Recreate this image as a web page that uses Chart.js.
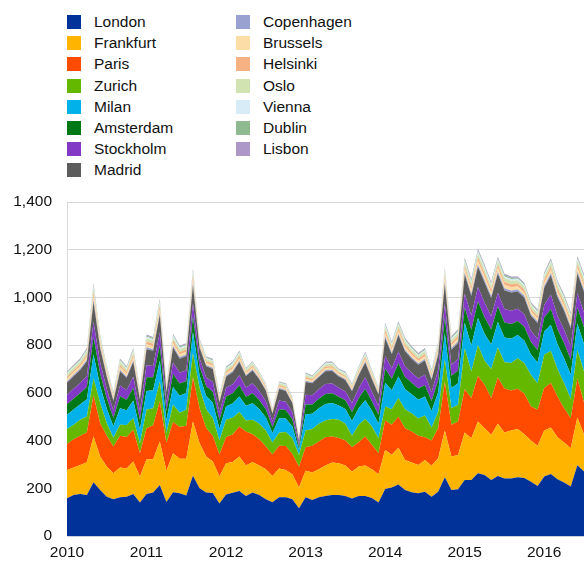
<!DOCTYPE html>
<html>
<head>
<meta charset="utf-8">
<script src="https://cdn.jsdelivr.net/npm/chart.js"></script>
<style>
  body { margin: 0; background: #fff; font-family: "Liberation Sans", Arial, sans-serif; }
  #wrap { position: relative; width: 584px; height: 562px; overflow: hidden; }
  #legend { position: absolute; left: 0; top: 0; width: 584px; height: 190px; }
  .item { position: absolute; height: 14px; display: flex; align-items: center; font-size: 15.5px; color: #111; white-space: nowrap; }
  .sw { width: 14px; height: 14px; margin-right: 13px; flex: none; }
  #chart { position: absolute; left: 0; top: 190px; }
</style>
</head>
<body>
<div id="wrap">
  <div id="legend"></div>
  <canvas id="chart" width="584" height="372"></canvas>
</div>
<script>
// monthly, Jan 2010 - Jul 2016
var startYear = 2010;
var nMonths = 79;

var cities = ['London', 'Frankfurt', 'Paris', 'Zurich', 'Milan', 'Amsterdam', 'Stockholm', 'Madrid',
              'Copenhagen', 'Brussels', 'Helsinki', 'Oslo', 'Vienna', 'Dublin', 'Lisbon'];
var colors = ['#003299', '#FFB400', '#FF4B00', '#65B800', '#00B1EA', '#007816', '#8139C6', '#5C5C5C',
              '#98A1D0', '#FDDDA7', '#F6B183', '#D2E3B2', '#D8ECF8', '#8FB98E', '#AD97C8'];

var london = [158,172,176,172,225,193,165,154,162,165,176,140,
              176,182,214,143,183,179,170,253,200,182,180,136,
              174,181,189,168,182,172,154,141,162,162,154,116,
              162,151,162,168,172,172,168,157,168,168,159,140,
              197,203,216,193,183,179,185,165,186,246,193,196,
              235,235,263,256,235,252,241,241,246,243,227,210,
              249,260,238,224,207,297,270];
var frankfurt = [119,115,122,137,192,140,126,109,125,118,136,109,
                 146,140,182,130,164,145,154,227,189,151,132,113,
                 131,129,144,128,128,124,126,111,121,115,105,87,
                 111,115,118,128,136,133,127,112,123,128,121,119,
                 164,138,154,126,125,119,134,129,140,196,140,144,
                 199,175,217,196,189,218,193,201,203,184,173,168,
                 193,195,176,168,161,200,155];
var paris = [109,119,122,125,173,140,129,112,133,132,133,98,
             130,142,169,117,131,133,138,185,146,119,108,93,
             110,115,126,142,117,110,95,90,95,100,85,87,
             99,112,116,118,109,106,105,103,102,121,102,88,
             123,125,130,133,130,122,95,106,126,203,133,140,
             181,168,191,182,154,194,184,168,168,169,143,151,
             178,186,171,144,126,163,135];
var zurich = [62,60,67,67,71,84,53,37,46,50,49,42,
              77,72,83,41,72,60,67,101,85,78,75,58,
              72,71,61,46,60,64,67,50,55,59,66,50,
              70,70,74,70,73,76,70,48,73,73,77,63,
              59,65,78,78,77,73,91,55,68,95,69,70,
              172,112,129,101,122,126,110,115,128,128,132,111,
              140,134,115,104,81,120,130];
var milan = [60,64,65,72,100,72,60,48,70,62,74,57,
             79,75,87,54,75,71,70,89,53,57,64,50,
             57,59,65,62,69,62,55,40,61,57,49,20,
             68,64,65,69,67,60,62,62,69,79,66,61,
             99,80,91,85,79,78,80,69,83,109,85,90,
             107,109,114,113,103,107,104,102,97,95,86,87,
             97,110,104,105,102,111,115];
var amsterdam = [44,46,47,52,72,52,44,35,50,44,53,41,
                 57,54,63,39,54,51,51,64,38,41,46,36,
                 41,43,47,38,42,38,34,24,37,35,30,12,
                 41,39,40,42,41,37,37,38,42,48,40,37,
                 60,48,55,51,48,47,48,42,50,66,52,54,
                 65,66,69,69,63,65,63,62,59,58,52,53,
                 59,67,63,64,62,67,70];
var stockholm = [39,41,42,46,64,46,39,31,45,40,47,37,
                 51,48,56,34,48,45,45,57,34,36,41,32,
                 36,38,42,38,42,38,34,24,37,35,30,12,
                 41,39,40,42,41,37,37,38,42,48,40,37,
                 53,43,49,45,42,42,43,37,44,59,45,48,
                 57,59,61,61,55,57,56,55,52,51,46,47,
                 52,59,56,56,55,59,62];
var madrid = [51,53,55,61,84,60,51,40,59,52,62,48,
              67,63,73,45,63,59,59,75,44,48,54,42,
              47,50,55,49,54,49,44,32,48,45,38,13,
              54,50,51,54,53,48,48,49,54,62,52,48,
              74,60,68,63,59,58,60,51,62,82,64,67,
              80,82,85,85,77,80,78,77,72,71,64,65,
              73,82,78,79,77,83,86];
var copenhagen = [6,6,6,7,10,7,6,5,7,6,7,6,
                  8,7,8,5,7,7,7,9,5,5,5,4,
                  5,6,6,4,5,4,4,3,4,4,3,2,
                  5,4,4,5,5,4,4,4,5,6,5,4,
                  8,6,7,7,6,6,6,6,7,9,7,7,
                  9,9,9,9,8,9,9,8,8,8,7,7,
                  8,9,9,8,8,9,9];
var brussels = [10,10,10,12,16,12,10,8,11,10,12,9,
                13,12,14,8,12,11,11,14,8,8,9,7,
                9,9,10,7,8,7,6,5,7,7,6,4,
                8,7,7,8,8,7,7,7,8,9,8,7,
                13,11,12,12,11,10,11,9,11,15,11,12,
                14,15,15,15,14,15,14,14,13,13,12,12,
                13,15,14,14,14,15,15];
var helsinki = [9,9,9,10,15,10,9,7,10,9,11,8,
                11,11,13,8,11,10,10,13,7,8,8,6,
                8,8,9,6,7,6,6,4,6,6,5,4,
                7,6,7,7,7,6,6,6,7,8,7,6,
                12,10,11,10,10,9,10,8,10,13,10,11,
                13,13,14,14,13,13,13,12,12,12,11,10,
                12,13,13,13,12,14,14];
var oslo = [11,11,11,13,18,13,11,9,12,11,13,10,
            14,13,15,9,13,13,12,16,9,9,10,8,
            10,10,11,8,9,8,7,5,7,7,6,4,
            9,8,8,9,9,7,8,7,8,10,9,7,
            15,12,14,13,12,11,12,10,12,16,13,13,
            16,16,17,17,15,16,16,15,14,14,13,13,
            15,16,16,15,15,17,17];
var vienna = [5,5,5,6,8,6,5,4,6,5,6,5,
              6,6,7,4,6,6,6,7,4,4,4,4,
              4,5,5,3,4,3,3,2,3,3,3,2,
              4,3,4,4,4,3,4,3,4,5,4,3,
              7,5,6,6,5,5,5,5,6,7,6,6,
              7,7,8,8,7,7,7,7,6,6,6,6,
              7,7,7,7,7,7,8];
var dublin = [4,4,4,5,6,5,4,3,4,4,5,4,
              5,5,6,3,5,5,4,6,3,3,4,3,
              4,4,4,3,3,3,2,2,3,3,2,2,
              3,3,3,3,3,3,3,3,3,4,3,3,
              5,4,5,5,4,4,4,4,4,6,5,5,
              6,6,6,6,6,6,6,6,5,5,5,5,
              5,6,6,6,6,6,6];
var lisbon = [3,4,4,4,6,4,3,3,4,4,4,3,
              5,4,5,3,4,4,4,5,3,3,3,3,
              3,3,4,2,3,2,2,2,2,2,2,1,
              3,2,3,3,3,2,3,2,3,4,3,2,
              5,4,4,4,4,4,4,3,4,5,4,5,
              5,6,6,6,5,5,5,5,5,5,4,4,
              5,5,5,5,5,6,6];

var series = [london, frankfurt, paris, zurich, milan, amsterdam, stockholm, madrid,
              copenhagen, brussels, helsinki, oslo, vienna, dublin, lisbon];

var yTicks = [0, 200, 400, 600, 800, 1000, 1200, 1400];

// category labels "2010-01" ... one per month
var months = [];
for (var i = 0; i < nMonths; i++) {
    var m = i % 12 + 1;
    months.push((startYear + Math.floor(i / 12)) + '-' + (m < 10 ? '0' : '') + m);
}

// legend: two columns (8 + 7)
var legend = document.getElementById('legend');
cities.forEach(function (name, k) {
    var col = k < 8 ? 0 : 1;
    var row = k < 8 ? k : k - 8;
    var div = document.createElement('div');
    div.className = 'item';
    div.style.left = (col ? 236 : 67) + 'px';
    div.style.top = (15 + row * 21.2) + 'px';
    div.innerHTML = '<span class="sw" style="background:' + colors[k] + '"></span>' + name;
    legend.appendChild(div);
});

var datasets = series.map(function (data, k) {
    return {
        label: cities[k],
        data: data,
        backgroundColor: colors[k],
        borderColor: colors[k],
        borderWidth: 0,
        pointRadius: 0,
        tension: 0,
        fill: k === 0 ? 'origin' : '-1'
    };
});

var tickFont = { family: '"Liberation Sans", Arial, sans-serif', size: 15.5 };

var ctx = document.getElementById('chart').getContext('2d');
var myChart = new Chart(ctx, {
    type: 'line',
    data: { labels: months, datasets: datasets },
    options: {
        responsive: false,
        animation: false,
        devicePixelRatio: 1,
        layout: { padding: { top: 12, left: 0, right: 0, bottom: 0 } },
        plugins: { legend: { display: false }, tooltip: { enabled: false } },
        elements: { line: { borderWidth: 0 } },
        scales: {
            x: {
                offset: false,
                // tick marks only used as spacing for the labels
                grid: { display: false, drawTicks: true, tickLength: 7 },
                border: { display: true, color: '#c9cde0' },
                ticks: {
                    autoSkip: false,
                    maxRotation: 0,
                    padding: 0,
                    color: '#111',
                    font: tickFont,
                    callback: function (value) {
                        var lab = this.getLabelForValue(value);
                        return lab.slice(5) === '01' ? lab.slice(0, 4) : '';
                    }
                },
                afterFit: function (s) { s.height = 26; }
            },
            y: {
                stacked: true,
                min: yTicks[0],
                max: yTicks[yTicks.length - 1],
                grid: { color: '#d9d9d9', drawTicks: true, tickLength: 15, tickColor: 'rgba(0,0,0,0)' },
                border: { display: true, color: '#d9d9d9' },
                ticks: {
                    stepSize: yTicks[1] - yTicks[0],
                    padding: 0,
                    color: '#111',
                    font: tickFont,
                    callback: function (v) { return v.toLocaleString('en-US'); }
                },
                afterFit: function (s) { s.width = 67; }
            }
        }
    }
});
</script>
</body>
</html>
